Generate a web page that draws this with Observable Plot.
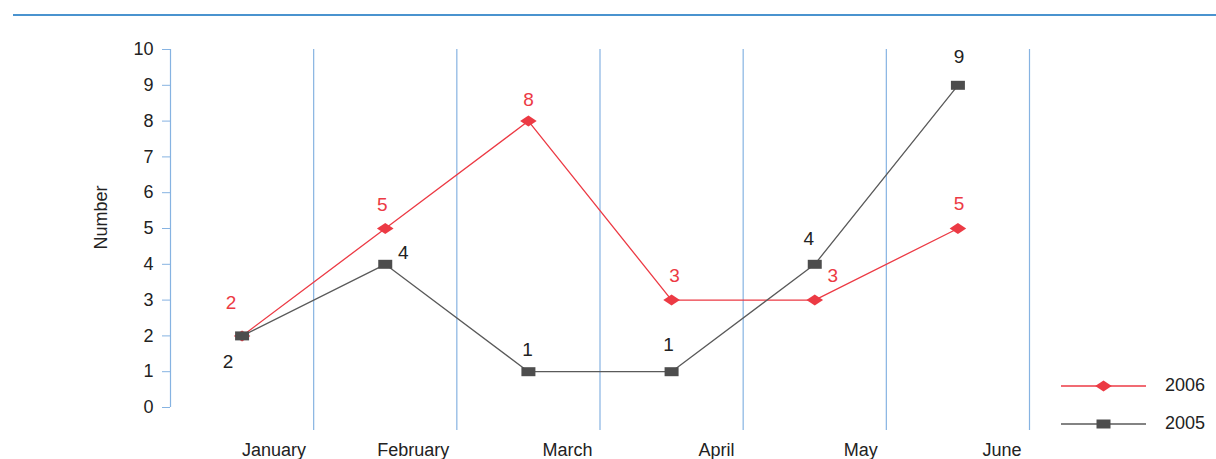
<!DOCTYPE html>
<html>
<head>
<meta charset="utf-8">
<script src="https://cdn.jsdelivr.net/npm/d3@7"></script>
<script src="https://cdn.jsdelivr.net/npm/@observablehq/plot@0.6"></script>
<style>
  html, body { margin: 0; padding: 0; background: #fff; }
  #wrap { position: relative; width: 1216px; height: 459px; overflow: hidden; font-family: "Liberation Sans", Arial, Helvetica, sans-serif; }
  #topline { position: absolute; left: 13px; right: 0; top: 14px; height: 2px; background: #4a93cf; }
  #chart { position: absolute; left: 0; top: 0; }
  #legend { position: absolute; left: 0; top: 0; }
</style>
</head>
<body>
<div id="wrap">
  <div id="chart"></div>
  <div id="topline"></div>
  <svg id="legend" width="1216" height="459"></svg>
</div>
<script>
// ---- data ----
const months = ["January", "February", "March", "April", "May", "June"];
const values2006 = [2, 5, 8, 3, 3, 5];
const values2005 = [2, 4, 1, 1, 4, 9];
const yTicks = [0, 1, 2, 3, 4, 5, 6, 7, 8, 9, 10];
const seriesNames = ["2006", "2005"];

// ---- styles / label placement (pixels) ----
const RED = "#ec3a44";
const DARK = "#4d4d4d";
const LINE_DARK = "#5a5a5a";
const BLUE = "#86b3e2";
const TEXT = "#222";
const labelOffsets2006 = [[-11, -33], [-3, -24], [0, -21], [3, -24], [18, -24], [1, -25]];
const labelOffsets2005 = [[-14, 26], [18, -11], [-1, -22], [-3, -27], [-6, -25], [1, -28]];
const monthLabelDx = [32, 28, 39, 45, 46, 44];

const rectSymbol = { draw(ctx) { ctx.moveTo(-7, -4.5); ctx.lineTo(7, -4.5); ctx.lineTo(7, 4.5); ctx.lineTo(-7, 4.5); ctx.closePath(); } };
const diamondSymbol = { draw(ctx) { ctx.moveTo(-8.3, 0); ctx.lineTo(0, -5.5); ctx.lineTo(8.3, 0); ctx.lineTo(0, 5.5); ctx.closePath(); } };

const d2006 = months.map((m, i) => ({ i, month: m, value: values2006[i] }));
const d2005 = months.map((m, i) => ({ i, month: m, value: values2005[i] }));
const gridX = months.map((_, i) => i + 0.5);

const labelMarks = [
  ...d2006.map((d, k) => Plot.text([d], { x: "i", y: "value", text: d => String(d.value), fill: RED, fontSize: 19, dx: labelOffsets2006[k][0], dy: labelOffsets2006[k][1] })),
  ...d2005.map((d, k) => Plot.text([d], { x: "i", y: "value", text: d => String(d.value), fill: TEXT, fontSize: 19, dx: labelOffsets2005[k][0], dy: labelOffsets2005[k][1] }))
];

const monthMarks = months.map((m, k) => Plot.text([{ i: k, month: m }], {
  x: "i", text: "month", frameAnchor: "bottom", lineAnchor: "middle", textAnchor: "middle",
  dy: 43, dx: monthLabelDx[k], fontSize: 18, fill: TEXT
}));

const chart = Plot.plot({
  width: 1216,
  height: 459,
  marginLeft: 170,
  marginRight: 187,
  marginTop: 49,
  marginBottom: 52,
  x: { domain: [-0.5, months.length - 0.5], axis: null },
  y: { domain: [0, 10], axis: null },
  style: { fontFamily: "'Liberation Sans', Arial, Helvetica, sans-serif", background: "transparent", overflow: "visible" },
  marks: [
    Plot.ruleX(gridX, { stroke: BLUE, strokeWidth: 1.2, insetBottom: -23 }),
    Plot.ruleX([-0.5], { y1: 0, y2: 10, stroke: BLUE, strokeWidth: 1.2 }),
    Plot.axisY(yTicks, { tickSize: 8, tickPadding: 9, stroke: BLUE, fill: TEXT, fontSize: 18, label: null, tickFormat: d => String(d) }),
    Plot.text(["Number"], { frameAnchor: "left", rotate: -90, textAnchor: "middle", lineAnchor: "middle", dx: -69, dy: -11, fontSize: 18, fill: TEXT }),
    Plot.line(d2006, { x: "i", y: "value", stroke: RED, strokeWidth: 1.3 }),
    Plot.line(d2005, { x: "i", y: "value", stroke: LINE_DARK, strokeWidth: 1.3 }),
    Plot.dot(d2006, { x: "i", y: "value", symbol: diamondSymbol, fill: RED, stroke: "none" }),
    Plot.dot(d2005, { x: "i", y: "value", symbol: rectSymbol, fill: DARK, stroke: "none" }),
    ...labelMarks,
    ...monthMarks
  ]
});
document.getElementById("chart").appendChild(chart);

// ---- legend ----
const legend = d3.select("#legend");
const legendItems = [
  { name: seriesNames[0], color: RED, markColor: RED, symbol: diamondSymbol, y: 386 },
  { name: seriesNames[1], color: LINE_DARK, markColor: DARK, symbol: rectSymbol, y: 424 }
];
legendItems.forEach(it => {
  legend.append("line").attr("x1", 1061).attr("x2", 1146).attr("y1", it.y).attr("y2", it.y)
    .attr("stroke", it.color).attr("stroke-width", 1.3);
  legend.append("path").attr("d", d3.symbol(it.symbol)()).attr("transform", `translate(1103.5,${it.y})`).attr("fill", it.markColor);
  legend.append("text").attr("x", 1165).attr("y", it.y - 1).attr("dy", "0.36em")
    .attr("font-size", 18).attr("fill", TEXT)
    .attr("font-family", "'Liberation Sans', Arial, Helvetica, sans-serif").text(it.name);
});
</script>
</body>
</html>
